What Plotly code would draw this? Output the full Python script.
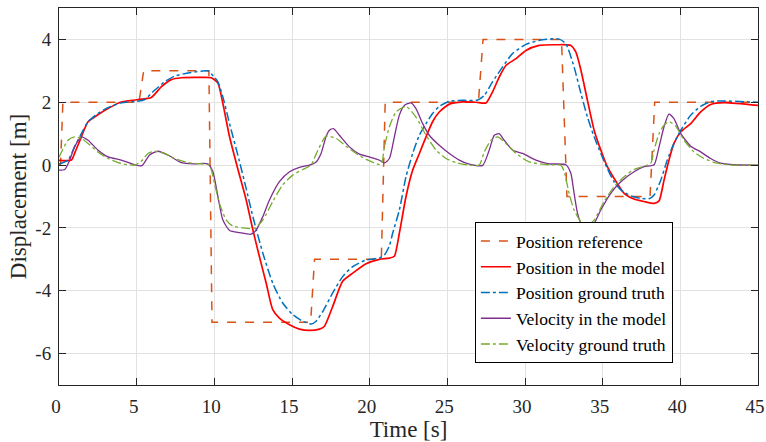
import plotly.graph_objects as go

# ---------------- data ----------------
t_ref = [0, 0.1, 0.25, 5.15, 5.45, 9.65, 9.85, 16.2, 16.45, 20.75, 21.0, 27.0, 27.3, 32.35, 32.7, 38.05, 38.35, 45]
pos_ref = [0, 0, 2, 2, 3, 3, -5, -5, -3, -3, 2, 2, 4, 4, -1, -1, 2, 2]

t_pm = [0, 0.8, 1.0, 1.44, 1.87, 2.5, 3.15, 4.0, 5.0, 5.94, 6.58, 7.23, 7.87, 9.16, 9.8, 10.23, 10.55,
        10.98, 11.5, 12.05, 12.48, 12.9, 13.34, 13.76, 14.19, 14.84, 15.48, 16.12, 16.77, 17.09, 17.62,
        18.26, 18.91, 19.77, 20.62, 21.27, 21.59, 21.91, 22.34, 22.77, 23.2, 23.63, 24.05, 24.48, 25.13,
        25.98, 26.84, 27.49, 27.91, 28.34, 28.77, 29.42, 30.06, 30.91, 31.98, 32.95, 33.27, 33.6, 34.02,
        34.45, 34.88, 35.3, 35.73, 36.38, 37.02, 37.66, 38.31, 38.63, 38.95, 39.27, 39.59, 40.03, 40.67,
        41.31, 41.95, 42.81, 45]
pos_model = [0.15, 0.16, 0.37, 0.9, 1.38, 1.6, 1.8, 2.01, 2.08, 2.15, 2.49, 2.72, 2.78, 2.79, 2.78, 2.61, 1.96,
             0.9, -0.1, -1.11, -2.06, -2.91, -3.76, -4.6, -4.87, -5.08, -5.22, -5.26, -5.22, -5.13, -4.5,
             -3.7, -3.44, -3.14, -3.0, -2.96, -2.9, -2.17, -1.0, -0.16, 0.37, 0.9, 1.38, 1.69, 1.94,
             2.01, 2.0, 1.98, 2.33, 2.8, 3.17, 3.39, 3.65, 3.81, 3.83, 3.81, 3.6, 3.02, 2.06,
             1.11, 0.48, -0.05, -0.42, -0.9, -1.08, -1.16, -1.22, -1.14, -0.48, 0.16, 0.69, 1.06, 1.32,
             1.69, 1.93, 1.99, 1.9]

t_pg = [0, 0.58, 1.0, 1.44, 1.87, 2.5, 3.15, 4.0, 5.0, 5.5, 6.15, 6.8, 7.44, 8.3, 9.16, 9.58, 10.0, 10.23,
        10.55, 10.98, 11.6, 12.05, 12.48, 13.12, 13.76, 14.4, 15.05, 15.69, 16.23, 16.55, 16.98, 17.62,
        18.26, 18.91, 19.77, 20.62, 20.95, 21.27, 21.48, 21.91, 22.34, 22.77, 23.2, 23.63, 24.05, 24.48,
        25.13, 25.98, 26.95, 27.38, 27.91, 28.55, 29.2, 30.06, 31.13, 32.2, 32.63, 33.16, 33.6, 34.02,
        34.45, 34.88, 35.3, 35.73, 36.17, 36.81, 37.45, 37.99, 38.31, 38.74, 39.16, 39.59, 40.03, 40.67,
        41.31, 41.95, 42.81, 45]
pos_truth = [0.03, 0.16, 0.58, 1.0, 1.38, 1.64, 1.83, 1.98, 2.03, 2.08, 2.38, 2.65, 2.83, 2.93, 2.99, 3.0, 2.8, 2.65,
             2.17, 1.32, 0.15, -0.75, -1.64, -2.8, -3.76, -4.39, -4.76, -4.97, -5.06, -4.97, -4.66, -4.07,
             -3.55, -3.23, -3.02, -2.96, -2.86, -2.57, -2.17, -1.43, -0.37, 0.37, 0.95, 1.32, 1.64, 1.87,
             2.03, 2.06, 2.07, 2.22, 2.65, 3.12, 3.55, 3.84, 3.99, 4.01, 3.86, 3.12, 2.28, 1.53,
             0.9, 0.37, -0.11, -0.53, -0.79, -0.98, -1.06, -1.07, -0.95, -0.48, 0.16, 0.69, 1.11, 1.59,
             1.87, 2.02, 2.04, 2.0]

t_vm = [0, 0.37, 0.69, 1.0, 1.44, 1.87, 2.5, 3.15, 4.0, 4.87, 5.34, 5.83, 6.37, 7.01, 7.87, 8.73, 9.58, 9.9,
        10.23, 10.55, 10.98, 11.62, 12.37, 12.7, 13.12, 13.55, 14.19, 14.84, 15.48, 16.12, 16.55, 16.87,
        17.2, 17.41, 17.67, 18.05, 18.7, 19.34, 19.98, 20.62, 20.95, 21.27, 21.59, 21.91, 22.23, 22.66,
        22.98, 23.41, 23.84, 24.48, 25.13, 25.77, 26.41, 27.27, 27.7, 28.02, 28.34, 28.66, 29.2, 29.84,
        30.7, 31.56, 32.63, 32.95, 33.16, 33.38, 33.7, 34.02, 34.34, 34.88, 35.52, 36.17, 37.02, 37.66,
        38.31, 38.63, 38.95, 39.27, 39.59, 40.03, 40.67, 41.31, 41.95, 42.6, 43.45, 45]
vel_model = [-0.16, -0.14, 0.16, 0.58, 0.9, 0.79, 0.48, 0.26, 0.16, 0.01, -0.02, 0.32, 0.44, 0.32, 0.08, 0.04, 0.04, -0.2,
             -1.0, -1.75, -2.08, -2.15, -2.2, -2.06, -1.64, -1.11, -0.53, -0.21, -0.07, 0.0, 0.1, 0.37,
             0.92, 1.11, 1.16, 0.95, 0.58, 0.35, 0.26, 0.16, 0.07, 0.21, 0.9, 1.59, 1.9, 1.98,
             1.8, 1.32, 0.95, 0.63, 0.37, 0.16, 0.03, -0.01, 0.48, 0.95, 1.0, 0.79, 0.48, 0.37,
             0.16, 0.04, 0.01, -0.26, -0.9, -1.53, -1.96, -2.06, -1.96, -1.43, -0.9, -0.53, -0.21, -0.05,
             0.01, 0.58, 1.22, 1.62, 1.48, 1.0, 0.6, 0.42, 0.21, 0.06, 0.01, 0.0]

t_vg = [0, 0.58, 1.0, 1.44, 1.87, 2.5, 3.15, 4.0, 4.87, 5.3, 5.73, 6.15, 6.8, 7.44, 8.3, 9.37, 9.69, 10.01,
        10.33, 10.77, 11.19, 11.83, 12.59, 13.12, 13.76, 14.4, 15.05, 15.69, 16.23, 16.55, 17.2, 17.84,
        18.48, 19.13, 19.77, 20.62, 20.78, 20.95, 21.27, 21.7, 22.34, 22.98, 23.63, 24.27, 24.91, 25.56,
        26.41, 27.05, 27.38, 27.81, 28.23, 28.77, 29.42, 30.27, 31.56, 32.3, 32.52, 32.84, 33.16, 33.6,
        34.02, 34.45, 35.09, 35.73, 36.38, 37.02, 37.66, 38.1, 38.31, 38.63, 38.95, 39.27, 39.7, 40.24,
        40.88, 41.52, 42.38, 43.45, 45]
vel_truth = [0.25, 0.79, 0.9, 0.85, 0.69, 0.42, 0.21, 0.05, 0.0, 0.12, 0.37, 0.44, 0.37, 0.21, 0.08, 0.03, 0.0, -0.58,
             -1.22, -1.75, -1.94, -2.0, -2.01, -1.75, -1.16, -0.63, -0.32, -0.14, 0.0, 0.35, 0.92, 0.85,
             0.6, 0.37, 0.18, 0.02, 0.06, 0.58, 1.22, 1.69, 1.87, 1.53, 0.95, 0.48, 0.21, 0.08,
             0.0, 0.0, 0.42, 0.79, 0.9, 0.69, 0.37, 0.1, 0.01, 0.0, -0.2, -0.9, -1.43, -1.8,
             -1.9, -1.75, -1.16, -0.69, -0.37, -0.14, -0.04, 0.06, 0.48, 1.0, 1.27, 1.38, 1.24, 0.79,
             0.42, 0.21, 0.06, 0.0, 0.0]

x_ticks = [0, 5, 10, 15, 20, 25, 30, 35, 40, 45]
y_ticks = [-6, -4, -2, 0, 2, 4]
y_tick_text = ["-6", "-4", "-2", "0", "2", "4"]

# ---------------- figure ----------------
FONT = "Liberation Serif, Times New Roman, serif"
fig = go.Figure()
fig.add_trace(go.Scatter(x=t_ref, y=pos_ref, mode="lines", name="Position reference",
                         line=dict(color="#D95319", width=1.5, dash="dash")))
fig.add_trace(go.Scatter(x=t_pm, y=pos_model, mode="lines", name="Position in the model",
                         line=dict(color="#FF0000", width=1.7, shape="spline", smoothing=0.6)))
fig.add_trace(go.Scatter(x=t_pg, y=pos_truth, mode="lines", name="Position ground truth",
                         line=dict(color="#0072BD", width=1.5, dash="dashdot", shape="spline", smoothing=0.6)))
fig.add_trace(go.Scatter(x=t_vm, y=vel_model, mode="lines", name="Velocity in the model",
                         line=dict(color="#7E2F8E", width=1.3, shape="spline", smoothing=0.6)))
fig.add_trace(go.Scatter(x=t_vg, y=vel_truth, mode="lines", name="Velocity ground truth",
                         line=dict(color="#77AC30", width=1.3, dash="dashdot", shape="spline", smoothing=0.6)))

axis_common = dict(showline=True, linecolor="#262626", linewidth=1, mirror="ticks",
                   ticks="inside", ticklen=7, tickcolor="#262626", tickwidth=1,
                   showgrid=True, gridcolor="#E2E2E2", gridwidth=1, zeroline=False,
                   ticklabeloverflow="allow", automargin=False,
                   tickfont=dict(family=FONT, size=19, color="#262626"))

fig.update_xaxes(range=[0, 45], tickvals=x_ticks, ticklabelstandoff=4, ticklabelshift=-3,
                 title=dict(text="Time [s]", font=dict(family=FONT, size=23, color="#262626"), standoff=6),
                 **axis_common)
fig.update_yaxes(range=[-7, 5], tickvals=y_ticks, ticktext=y_tick_text, ticklabelstandoff=3,
                 title=dict(text="Displacement [m]", font=dict(family=FONT, size=23, color="#262626"), standoff=2),
                 **axis_common)

fig.update_layout(
    width=766, height=442,
    margin=dict(l=59, r=8, t=8, b=57),
    paper_bgcolor="white", plot_bgcolor="white",
    showlegend=True,
    legend=dict(x=0.595, y=0.432, xanchor="left", yanchor="top",
                bgcolor="white", bordercolor="#000000", borderwidth=1,
                font=dict(family=FONT, size=17.5, color="#000000"),
                tracegroupgap=0, itemwidth=30),
)

fig.write_html("out.html")
